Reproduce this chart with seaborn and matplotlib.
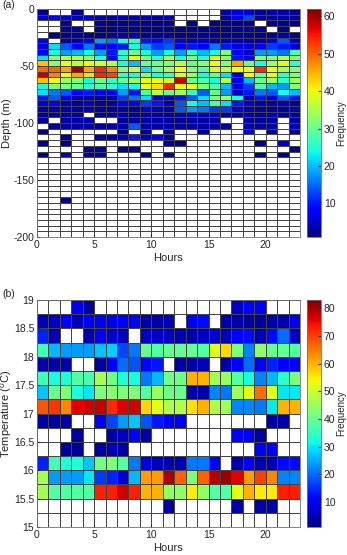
import numpy as np
import pandas as pd
import matplotlib
matplotlib.use("Agg")
import matplotlib.pyplot as plt
import seaborn as sns

plt.rcParams['font.family'] = ['Liberation Sans', 'DejaVu Sans']

# ---------------- data ----------------
hours = list(range(23))                      # hourly bins 0..22
depth_bins = [-5 * i for i in range(40)]     # 5 m bins, 0 .. -200
temp_bins = [19 - 0.25 * i for i in range(16)]  # 0.25 degC bins, 19 .. 15

hour_ticks = [0, 5, 10, 15, 20]
depth_tick_labels = ['0', '-50', '-100', '-150', '-200']
temp_tick_labels = ['19', '18.5', '18', '17.5', '17', '16.5', '16', '15.5', '15']

depth_freq = [
    [2,0,0,2,0,0,0,0,0,0,0,0,0,0,0,0,3,6,6,3,3,3,2],
    [6,8,6,4,6,4,3,4,4,4,3,4,0,0,0,0,3,7,13,3,3,3,3],
    [0,0,3,0,0,3,2,2,4,3,2,2,0,2,0,2,2,2,2,0,2,2,2],
    [0,0,3,3,0,2,2,3,2,2,2,2,2,2,2,2,2,2,3,3,0,2,0],
    [0,2,2,3,2,2,3,4,5,3,3,3,2,2,3,2,2,2,2,2,2,3,2],
    [8,0,3,3,8,18,16,24,26,10,9,12,6,4,5,3,3,4,3,3,6,14,4],
    [6,22,14,8,16,9,8,10,24,18,12,14,8,10,8,16,10,6,6,8,12,10,6],
    [8,24,18,20,24,18,10,26,30,24,18,24,18,26,20,24,32,8,4,18,18,16,28],
    [22,32,36,36,33,25,9,25,40,32,25,36,25,32,25,40,32,10,8,32,32,36,32],
    [44,32,40,36,40,38,36,24,20,30,30,32,36,30,32,40,32,46,30,24,34,38,26],
    [50,50,46,60,46,54,48,32,36,22,30,34,40,32,28,38,36,40,40,54,40,34,32],
    [58,48,40,46,42,54,52,26,24,32,24,26,38,34,24,30,22,6,40,30,40,26,32],
    [44,40,34,32,24,30,26,30,34,40,40,38,58,30,28,24,36,8,20,30,34,26,34],
    [24,32,32,30,26,28,26,22,24,40,42,54,40,40,32,28,20,6,12,28,20,18,32],
    [22,16,14,8,10,8,8,18,10,28,36,30,34,26,14,30,18,4,10,16,14,24,20],
    [10,14,8,3,4,3,3,12,16,22,6,4,10,14,22,32,34,24,4,10,6,14,10],
    [6,8,4,3,6,3,3,8,9,12,10,4,14,24,20,28,22,10,6,4,3,4,3],
    [3,4,4,3,4,3,3,4,3,6,4,4,14,18,16,12,12,6,4,3,3,3,4],
    [3,3,3,3,0,3,3,4,3,3,4,3,4,6,4,4,3,3,3,3,4,3,3],
    [3,0,3,3,3,0,0,3,3,3,3,3,3,3,3,3,0,0,3,3,3,0,3],
    [0,3,3,3,3,3,3,3,14,3,3,3,3,3,3,3,3,0,3,3,3,0,4],
    [2,0,0,0,0,0,0,2,0,2,0,2,0,0,2,0,0,0,6,0,2,0,2],
    [0,0,2,0,0,3,3,5,10,5,8,3,0,0,0,0,0,0,0,0,0,0,0],
    [2,0,2,0,0,0,0,0,0,0,0,2,2,0,0,0,0,0,0,2,0,5,0],
    [0,0,0,0,2,3,0,2,2,0,0,0,0,0,0,0,0,0,0,0,0,0,2],
    [2,0,4,0,2,3,0,0,0,2,0,2,0,0,0,0,0,0,0,2,0,2,0],
    [0]*23, [0]*23, [0]*23, [0]*23, [0]*23, [0]*23, [0]*23,
    [0,0,2,0,0,0,0,0,0,0,0,0,0,0,0,0,0,0,0,0,0,0,0],
    [0]*23, [0]*23, [0]*23, [0]*23, [0]*23, [0]*23,
]

temp_freq = [
    [0,0,0,9,3,0,0,0,0,0,0,0,0,0,0,0,0,6,11,11,0,0,0],
    [5,6,10,5,11,11,9,10,10,4,4,5,0,10,12,0,4,4,3,3,4,4,9],
    [14,5,0,0,4,10,7,6,0,6,6,6,5,4,6,7,5,10,12,5,12,20,6],
    [36,26,24,24,24,27,28,17,21,40,38,40,40,40,38,52,57,42,22,44,40,40,38],
    [4,4,4,0,0,3,10,20,18,11,13,0,4,4,5,0,4,10,20,11,14,11,10],
    [36,32,33,38,37,46,41,33,32,21,26,41,41,60,60,46,45,38,32,22,26,34,42],
    [27,40,42,32,30,42,43,42,42,38,45,41,40,4,4,22,21,46,52,66,52,30,30],
    [68,71,64,76,77,78,72,76,77,57,52,47,47,56,60,47,46,22,22,21,30,60,60],
    [4,4,4,0,0,10,17,24,27,18,13,11,10,0,0,0,0,0,0,0,4,4,0],
    [0,0,0,3,0,0,4,6,10,4,0,0,0,0,0,0,0,10,11,3,0,0,0],
    [0,0,3,3,0,4,5,4,0,0,0,0,0,0,0,0,0,0,0,10,11,0,0],
    [14,36,33,33,27,41,42,38,21,8,5,5,5,21,21,10,0,4,10,5,5,12,12],
    [46,24,24,24,30,16,14,8,26,62,62,80,67,42,67,79,81,76,62,70,64,22,22],
    [46,38,38,38,38,73,73,77,73,60,60,44,44,55,44,38,38,52,60,55,55,73,73],
    [0,0,0,0,0,0,0,0,0,0,0,3,0,0,0,0,0,4,0,4,4,0,0],
    [0]*23,
]

dfA = pd.DataFrame(depth_freq, index=depth_bins, columns=hours)
dfB = pd.DataFrame(temp_freq, index=temp_bins, columns=hours)

# ---------------- figure ----------------
W, H = 347, 555
fig = plt.figure(figsize=(W / 100, H / 100), dpi=100)

cmap = matplotlib.colormaps['jet'].copy()
cmap.set_under('white')

txt_col = '#262626'
fs = 7.5


def panel(df, rect, crect, vmax, ctick, ylab, yticks, ylabels, ylab_x):
    ax = fig.add_axes([rect[0] / W, 1 - (rect[1] + rect[3]) / H, rect[2] / W, rect[3] / H])
    cax = fig.add_axes([crect[0] / W, 1 - (crect[1] + crect[3]) / H, crect[2] / W, crect[3] / H])
    sns.heatmap(df, ax=ax, cbar_ax=cax, cmap=cmap, vmin=1, vmax=vmax,
                linewidths=0.4, linecolor='#444444',
                xticklabels=False, yticklabels=False)
    ax.set_xticks(hour_ticks)
    ax.set_xticklabels([str(h) for h in hour_ticks], rotation=0)
    ax.set_yticks(yticks)
    ax.set_yticklabels(ylabels, rotation=0)
    ax.tick_params(direction='in', length=2, labelsize=fs, colors=txt_col, pad=2)
    ax.set_xlabel('Hours', fontsize=8, color=txt_col, labelpad=2)
    ax.set_ylabel(ylab, fontsize=8, color=txt_col)
    ax.yaxis.set_label_coords((ylab_x - rect[0]) / rect[2], 0.5)
    for sp in ax.spines.values():
        sp.set_visible(True)
        sp.set_color('#707070')
        sp.set_linewidth(0.6)
    cb = ax.collections[0].colorbar
    cb.set_ticks(ctick)
    cb.ax.tick_params(labelsize=fs, length=2, direction='in', colors=txt_col, pad=2)
    cb.outline.set_edgecolor('#707070')
    cb.outline.set_linewidth(0.6)
    cb.set_label('Frequency', fontsize=7, color=txt_col)
    cb.ax.yaxis.set_label_coords((336 - crect[0]) / crect[2], 0.5)
    return ax


panel(dfA, (37, 9, 263, 228), (307, 9, 14, 228), 62, [10, 20, 30, 40, 50, 60],
      'Depth (m)', [0, 10, 20, 30, 40], depth_tick_labels, 12)
panel(dfB, (37, 300, 263, 227), (307, 300, 14, 227), 83, [10, 20, 30, 40, 50, 60, 70, 80],
      'Temperature ($^o$C)', list(range(0, 17, 2)), temp_tick_labels, 14)

fig.text(2 / W, 1 - 5 / H, '(a)', fontsize=7.5, color=txt_col, va='center', ha='left')
fig.text(2 / W, 1 - 294 / H, '(b)', fontsize=7.5, color=txt_col, va='center', ha='left')

fig.savefig('out.png', dpi=100)
